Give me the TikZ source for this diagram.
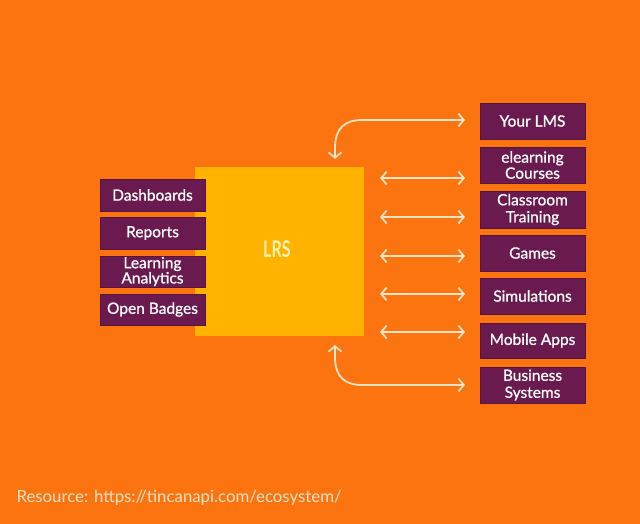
\documentclass[tikz,border=0pt]{standalone}
\usepackage{fontspec}
\setmainfont{Lato}
\newfontfamily\medfont[FakeBold=0.9]{Lato}
\usetikzlibrary{arrows.meta}
\definecolor{bgor}{HTML}{FB7410}
\definecolor{plum}{HTML}{6A1A4E}
\definecolor{amber}{HTML}{FFB200}
\definecolor{cream}{HTML}{FCE3C6}
\definecolor{lrstext}{HTML}{FFF3B0}
\begin{document}
\begin{tikzpicture}[x=1pt,y=-1pt,
  item/.style={fill=plum,draw=plum!80!black,line width=0.6pt,text=white,inner sep=0pt,align=center,
     font=\medfont\fontsize{15.5}{14}\selectfont},
  link/.style={draw=cream,line width=1.8pt,{Straight Barb[length=5.5pt,width=13pt]}-{Straight Barb[length=5.5pt,width=13pt]}}]
\fill[bgor] (0,0) rectangle (640,524);
\useasboundingbox (0,0) rectangle (640,524);
% LRS
\node[fill=amber,minimum width=169pt,minimum height=169pt,inner sep=0pt] (lrs) at (279.5,251.5) {};
\node[text=lrstext,font=\bfseries\fontsize{23}{23}\selectfont] (lrslabel) at (277,249) {\scalebox{0.7}[1]{LRS}};
% left items
\node[item,minimum width=105pt,minimum height=32pt] (dash) at (152.5,195) {Dashboards};
\node[item,minimum width=105pt,minimum height=32pt] (rep) at (152.5,233) {Reports};
\node[item,minimum width=105pt,minimum height=31pt,font=\medfont\fontsize{15.5}{13.5}\selectfont] (la) at (152.5,271.5) {Learning\\Analytics};
\node[item,minimum width=105pt,minimum height=31pt] (ob) at (152.5,309.5) {Open Badges};
% right items
\node[item,minimum width=105pt,minimum height=36pt] (lms) at (532.5,121) {Your LMS};
\node[item,minimum width=105pt,minimum height=36pt,font=\medfont\fontsize{15.5}{16}\selectfont] (elc) at (532.5,165) {elearning\\Courses};
\node[item,minimum width=105pt,minimum height=37pt,font=\medfont\fontsize{15.5}{17}\selectfont] (ct) at (532.5,209.5) {Classroom\\Training};
\node[item,minimum width=105pt,minimum height=36pt] (gm) at (532.5,253) {Games};
\node[item,minimum width=105pt,minimum height=36pt] (sim) at (532.5,296) {Simulations};
\node[item,minimum width=105pt,minimum height=35pt] (mob) at (532.5,340.5) {Mobile Apps};
\node[item,minimum width=105pt,minimum height=36pt,font=\medfont\fontsize{15.5}{17}\selectfont] (bus) at (532.5,385) {Business\\Systems};
% straight arrows
\coordinate (a1l) at (380,178); \coordinate (a1r) at (465,178);
\coordinate (a2l) at (380,217); \coordinate (a2r) at (465,217);
\coordinate (a3l) at (380,256); \coordinate (a3r) at (465,256);
\coordinate (a4l) at (380,294); \coordinate (a4r) at (465,294);
\coordinate (a5l) at (380,332); \coordinate (a5r) at (465,332);
\draw[link] (a1l) -- (a1r);
\draw[link] (a2l) -- (a2r);
\draw[link] (a3l) -- (a3r);
\draw[link] (a4l) -- (a4r);
\draw[link] (a5l) -- (a5r);
% curved arrows
\coordinate (t0) at (335,159); \coordinate (t1) at (465,120);
\draw[link] (t0) -- (335,148) .. controls (335,128) and (345,120) .. (362,120) -- (t1);
\coordinate (b0) at (335,345); \coordinate (b1) at (465,385);
\draw[link] (b0) -- (335,357) .. controls (335,377) and (345,385) .. (362,385) -- (b1);
% footer
\node[text=cream,anchor=west,font=\fontsize{16.8}{16.8}\selectfont] (src) at (13,498) {Resource: https://tincanapi.com/ecosystem/};
\end{tikzpicture}
\end{document}
